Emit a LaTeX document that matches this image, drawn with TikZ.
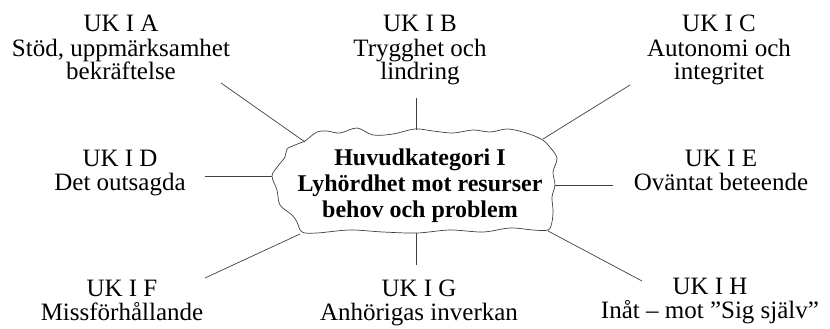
\documentclass[tikz,border=0pt]{standalone}
\usepackage{fontspec}
\setmainfont{Liberation Serif}
\begin{document}
\begin{tikzpicture}[x=1pt,y=-1pt,
  lab/.style={align=center, font=\fontsize{25}{24}\selectfont, inner sep=0pt, anchor=base},
  hubtext/.style={align=center, font=\fontsize{24}{26}\selectfont\bfseries, inner sep=0pt, anchor=base},
  conn/.style={draw=black!75, line width=0.7pt},
  cloudline/.style={draw=black!75, line width=0.7pt}]
\useasboundingbox (0,0) rectangle (830,329);

% cloud
\draw[cloudline] plot[smooth cycle, tension=0.55] coordinates {
 (305,141) (310,137) (317,132) (327,131) (340,133) (357,128) (373,135) (393,134)
 (415,129) (433,131) (453,133) (473,130) (490,132) (507,129) (523,132) (537,137)
 (544,141) (549,146) (557,158) (553,172) (555,185) (552,197) (553,210) (552,222)
 (548,230) (533,230) (510,228) (483,232) (450,230) (417,233) (383,232) (350,230)
 (317,233) (302,232) (297,222) (292,215) (280,205) (277,190) (272,176) (278,166)
 (285,157) (287,149) (295,145)};

% anchor=base of a multi-line node = baseline of its last line
\node[hubtext] (hub) at (420,217) {Huvudkategori I\\Lyhördhet mot resurser\\behov och problem};

\node[lab] (A) at (121,80) {UK I A\\Stöd, uppmärksamhet\\bekräftelse};
\node[lab] (B) at (420,80) {UK I B\\Trygghet och\\lindring};
\node[lab] (C) at (719,80) {UK I C\\Autonomi och\\integritet};
\node[lab] (D) at (120,190) {UK I D\\Det outsagda};
\node[lab] (E) at (721,190) {UK I E\\Oväntat beteende};
\node[lab] (F) at (122,320) {UK I F\\Missförhållande};
\node[lab] (G) at (419,320) {UK I G\\Anhörigas inverkan};
\node[lab] (H) at (710,318) {UK I H\\Inåt – mot ”Sig själv”};

\coordinate (a1) at (221,83);  \coordinate (a2) at (305,142);
\coordinate (b1) at (416,98);  \coordinate (b2) at (416,130);
\coordinate (c1) at (630,85);  \coordinate (c2) at (543,139);
\coordinate (d1) at (205,176); \coordinate (d2) at (272,176);
\coordinate (e1) at (555,185); \coordinate (e2) at (613,185);
\coordinate (f1) at (205,278); \coordinate (f2) at (300,234);
\coordinate (g1) at (416,233); \coordinate (g2) at (416,265);
\coordinate (h1) at (548,231); \coordinate (h2) at (642,281);

\draw[conn] (a1) -- (a2);
\draw[conn] (b1) -- (b2);
\draw[conn] (c1) -- (c2);
\draw[conn] (d1) -- (d2);
\draw[conn] (e1) -- (e2);
\draw[conn] (f1) -- (f2);
\draw[conn] (g1) -- (g2);
\draw[conn] (h1) -- (h2);
\end{tikzpicture}
\end{document}
